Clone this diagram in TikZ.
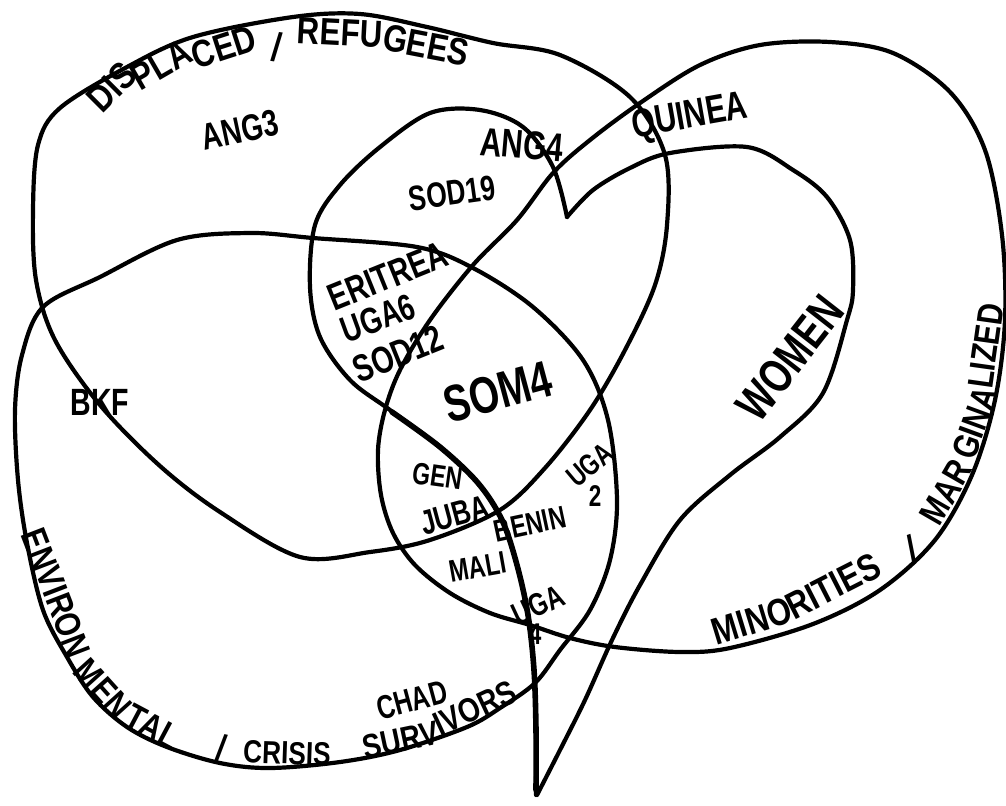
\documentclass[tikz,border=0pt]{standalone}
\usepackage{fontspec}
\setmainfont{Liberation Sans}
\newfontfamily\hand[FakeStretch=0.75]{Liberation Sans}
\newfontfamily\handt[FakeStretch=0.82]{Liberation Sans}
\tikzset{
  curve/.style={draw=black, line width=1.05pt, line cap=round, line join=round},
  lbl/.style={font=\hand\bfseries\fontsize{#1}{#1}\selectfont, inner sep=0pt, text=black},
  ttl/.style={font=\handt\bfseries\fontsize{#1}{#1}\selectfont, inner sep=0pt, text=black},
}
\begin{document}
\begin{tikzpicture}[x=0.25pt,y=-0.25pt]
\useasboundingbox[fill=white] (0,0) rectangle (1006,805);

% DISPLACED / REFUGEES
\draw[curve] plot[smooth cycle, tension=0.55] coordinates {
 (300,557) (220,512) (160,466) (100,405) (55,340) (36,280) (33,210) (38,145)
 (60,108) (127,67) (193,37) (293,17) (360,14) (427,27) (493,43) (560,55)
 (630,97) (665,155) (667,225) (655,285) (625,350) (590,410) (545,468)
 (500,510) (430,540) (370,552)};

% ENVIRONMENTAL / CRISIS SURVIVORS
\draw[curve] plot[smooth cycle, tension=0.55] coordinates {
 (43,307) (100,277) (177,240) (250,233) (313,238) (417,247) (473,268)
 (533,307) (583,360) (608,420) (617,500) (610,560) (590,610) (560,650)
 (535,683) (500,708) (467,727) (400,750) (340,762) (270,768) (220,763)
 (167,747) (127,727) (93,697) (67,657) (43,610) (27,543) (18,480) (15,410) (22,355)};

% MINORITIES / MARGINALIZED
\draw[curve] plot[smooth cycle, tension=0.55] coordinates {
 (378,450) (381,495) (393,533) (415,565) (450,593) (490,613) (530,625)
 (570,638) (615,647) (680,652) (730,648) (813,624) (880,590) (935,540)
 (972,475) (995,400) (1005,320) (1002,235) (985,150) (950,92) (893,53)
 (830,42) (760,45) (700,65) (640,103) (590,140) (553,173) (517,220)
 (473,265) (430,320) (400,370) (385,410)};

% WOMEN (heart)
\draw[curve] plot[smooth, tension=0.55] coordinates {
 (567,217) (553,167) (523,127) (480,110) (430,113) (380,147) (340,185)
 (315,225) (310,287) (320,337) (350,380) (390,410) (440,447) (478,483)
 (502,520) (517,565) (528,615) (534,670) (536,730) (536,795)};
\draw[curve] plot[smooth, tension=0.55] coordinates {
 (567,217) (593,190) (630,168) (670,153) (747,147) (793,170) (827,197)
 (850,240) (853,290) (847,320) (823,393) (780,437) (730,475) (680,520)
 (640,585) (612,640) (585,700) (560,750) (537,795)};
\draw[line width=1.4pt, line cap=round] plot[smooth, tension=0.55] coordinates {
 (392,412) (440,447) (478,483) (502,520) (517,565) (528,615) (534,670) (536,730) (536,790)};

% DISPLACED / REFUGEES title
\node[ttl=9.5, rotate=45] (d1) at (112,87) {DIS};
\node[ttl=9.5, rotate=30] (d2) at (161,65) {PLA};
\node[ttl=9.5, rotate=18] (d3) at (224,47) {CED};
\node[ttl=10, rotate=-8] (d4) at (277,47) {/};
\node[ttl=9.5, rotate=-3] (d5) at (340,33) {REFU};
\node[ttl=9.5, rotate=-11] (d6) at (426,45) {GEES};

% ENVIRONMENTAL / CRISIS title
\node[ttl=9, rotate=-69] (e1) at (56,593) {ENVIRON};
\node[ttl=9, rotate=-48] (e3) at (103,689) {MEN};
\node[ttl=9, rotate=-28] (e4) at (153,727) {TAL};
\node[ttl=9.5, rotate=-12] (e5) at (222,748) {/};
\node[ttl=8, rotate=-2] (e6) at (287,753) {CRISIS};

% SURVIVORS
\node[ttl=8.5, rotate=12] (s1) at (401,740) {SURV};
\node[ttl=8.5, rotate=25] (s2) at (475,708) {IVORS};

% MINORITIES / MARGINALIZED
\node[ttl=9.5, rotate=17] (m1) at (752,621) {MINO};
\node[ttl=9.5, rotate=27] (m2) at (833,586) {RITIES};
\node[ttl=10, rotate=20] (m3) at (912,550) {/};
\node[ttl=9, rotate=60] (m4) at (946,492) {MAR};
\node[ttl=9, rotate=70] (m5) at (975,423) {GINA};
\node[ttl=9, rotate=82] (m6) at (986,346) {LIZED};

% labels
\node[lbl=9.3, rotate=12] (ang3) at (240,130) {ANG3};
\node[lbl=10, rotate=-5] (ang4) at (522,145) {ANG4};
\node[lbl=8.8, rotate=8] (sod19) at (452,193) {SOD19};
\node[lbl=10, rotate=10] (guinea) at (690,118) {QUINEA};
\node[lbl=9.5, rotate=22] (eritrea) at (388,276) {ERITREA};
\node[lbl=9.2, rotate=20] (uga6) at (378,318) {UGA6};
\node[lbl=9.5, rotate=22] (sod12) at (398,354) {SOD12};
\node[lbl=12.9, rotate=15] (som4) at (498,392) {SOM4};
\node[lbl=9.5] (bkf) at (100,402) {BKF};
\node[lbl=7.7, rotate=-8] (gen) at (438,476) {GEN};
\node[lbl=8.6, rotate=15] (juba) at (455,515) {JUBA};
\node[lbl=7.8, rotate=12] (benin) at (530,524) {BENIN};
\node[lbl=7.5, rotate=40] (uga2) at (590,465) {UGA};
\node[lbl=7.5] (two) at (595,496) {2};
\node[lbl=7.8, rotate=10] (mali) at (478,567) {MALI};
\node[lbl=8, rotate=25] (uga4) at (538,605) {UGA};
\node[lbl=7.5] (four) at (535,634) {4};
\node[lbl=8.3, rotate=15] (chad) at (412,700) {CHAD};
\node[lbl=12, rotate=52] (women) at (790,358) {WOMEN};
\end{tikzpicture}
\end{document}
